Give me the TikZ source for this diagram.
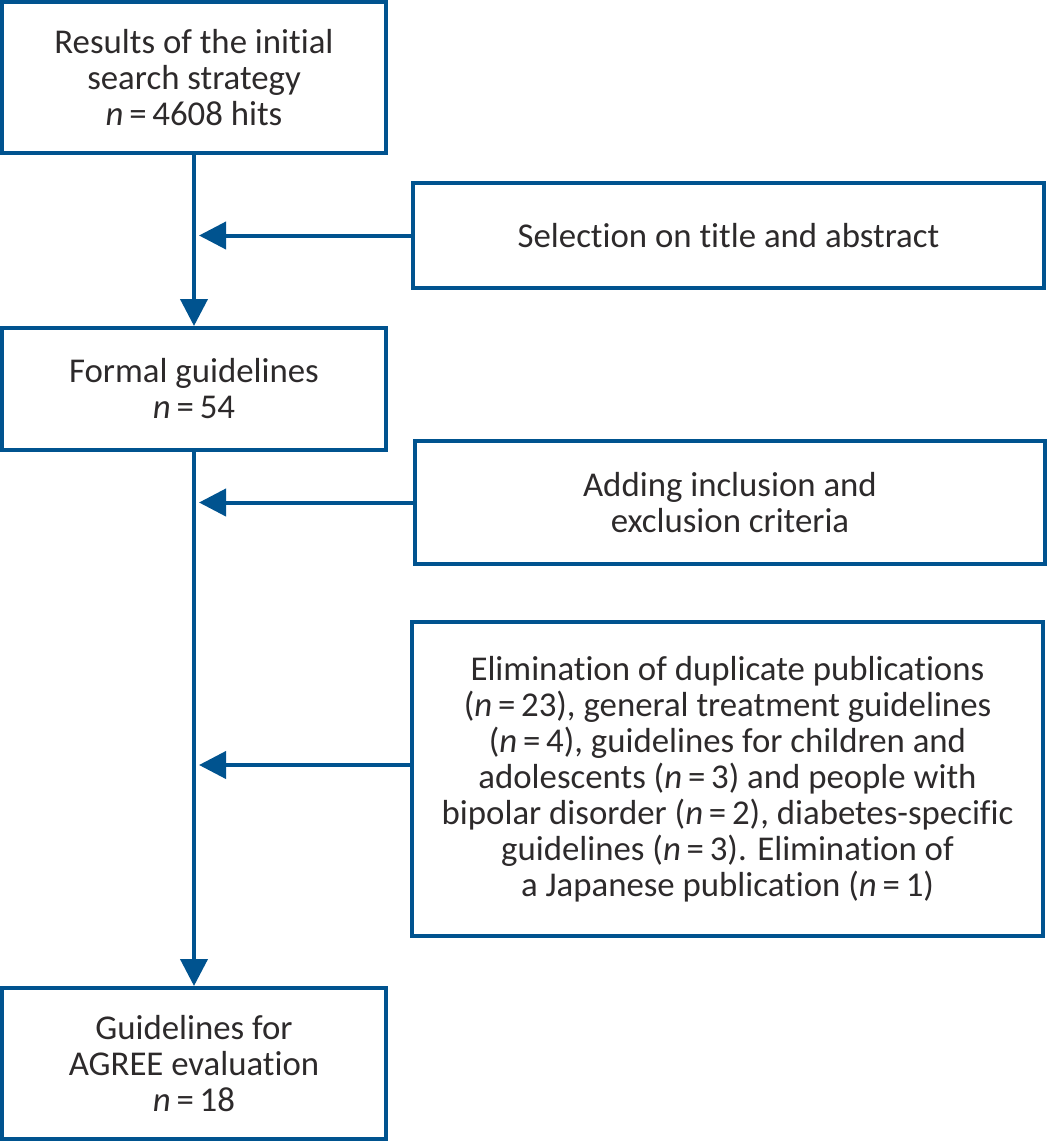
\documentclass[tikz,border=0pt]{standalone}
\usepackage{fontspec}
\setmainfont{Carlito}[Ligatures={NoCommon}]
\usetikzlibrary{arrows.meta}
\definecolor{boxblue}{RGB}{0,83,143}
\definecolor{txt}{RGB}{45,42,43}
\begin{document}
\begin{tikzpicture}[x=0.5pt,y=-0.5pt,
  box/.style={draw=boxblue, line width=2pt, rectangle, align=center, text=txt,
    font=\fontsize{17.4}{18}\selectfont, inner sep=0pt},
  flow/.style={draw=boxblue, line width=2pt, -{Triangle[length=13.5pt,width=13.5pt]}},
  link/.style={draw=boxblue, line width=2pt}]
\useasboundingbox (0,0) rectangle (1048,1142);

\node[box, minimum width=192pt, minimum height=75.5pt] (b1) at (194,77.5)
  {Results of the initial\\search strategy\\\textit{n}\,=\,4608 hits};
\node[box, minimum width=315.5pt, minimum height=52.5pt] (b2) at (728.5,235.5)
  {Selection on title and abstract};
\node[box, minimum width=192pt, minimum height=61pt] (b3) at (194,389)
  {Formal guidelines\\\textit{n}\,=\,54};
\node[box, minimum width=315pt, minimum height=61.5pt] (b4) at (730,502.5)
  {Adding inclusion and\\exclusion criteria};
\node[box, minimum width=315.5pt, minimum height=157pt] (b5) at (727.5,779)
  {Elimination of duplicate publications\\(\textit{n}\,=\,23), general treatment guidelines\\(\textit{n}\,=\,4), guidelines for children and\\adolescents (\textit{n}\,=\,3) and people with\\bipolar disorder (\textit{n}\,=\,2), diabetes-specific\\guidelines (\textit{n}\,=\,3). Elimination of\\a Japanese publication (\textit{n}\,=\,1)};
\node[box, minimum width=192pt, minimum height=75.5pt] (b6) at (194,1063.5)
  {Guidelines for\\AGREE evaluation\\\textit{n}\,=\,18};

\coordinate (t1) at (199,235.5);
\coordinate (t2) at (199,502.5);
\coordinate (t3) at (199,765);

\draw[flow] (b1.south) -- (b3.north);
\draw[flow] (b3.south) -- (b6.north);
\draw[flow] (b2.west) -- (t1);
\draw[flow] (b4.west) -- (t2);
\draw[flow] (t3 -| b5.west) -- (t3);
\end{tikzpicture}
\end{document}
